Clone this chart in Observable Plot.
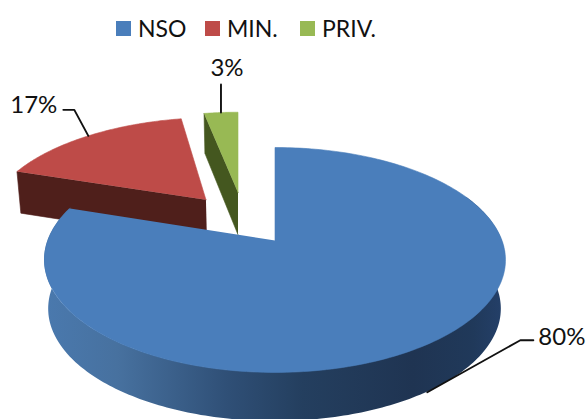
<!DOCTYPE html>
<html>
<head>
<meta charset="utf-8">
<script src="https://cdn.jsdelivr.net/npm/d3@7"></script>
<script src="https://cdn.jsdelivr.net/npm/@observablehq/plot@0.6"></script>
<style>
  html, body { margin: 0; padding: 0; background: #fff; overflow: hidden; }
  body { width: 588px; height: 419px; font-family: Lato, sans-serif; color: #111; }
  #legend { position: relative; height: 48px; }
  #legend .item { position: absolute; top: 15px; display: flex; align-items: center; font-size: 23px; line-height: 26px; }
  #legend .swatch { width: 15px; height: 15px; margin-right: 7px; }
  svg { display: block; }
</style>
</head>
<body>
<div id="legend"></div>
<div id="chart"></div>
<script>
// Shares of the three categories, in percent
const categories = ["NSO", "MIN.", "PRIV."];
const shares = [80, 17, 3];
const topColors = ["#4a7ebb", "#be4b48", "#98b954"];
const sideColors = ["#2c4a70", "#4f1f1b", "#44571f"];

// Perspective pie: disc coordinates are projected with a foreshortening factor k
const k = -0.173;
const pxX = 227, pxY = 109.1;          // pixels per projected unit
const originX = 274.5, originY = 192;  // pie centre inside the SVG
const width = 588, height = 371;

// Explosion of each slice and how its lower face is set below the top face
const explode = [
  {sx: 0, u: 0, v: 0, drop: 0.45, scaleX: 0.982, scaleY: 1},
  {sx: 1 / pxX, u: -0.33, v: -0.40, drop: 0.40, scaleX: 0.985, scaleY: 1.03},
  {sx: -37 / pxX, u: 0, v: -0.476, drop: 0.40, scaleX: 0.975, scaleY: 1.03}
];

// Leader lines: pixel steps from the rim outwards, and the label placement
const leaders = [
  {rim: "bottom", steps: [[93, -52], [13, 0]], text: [5, -3], anchor: "start"},
  {rim: "top", steps: [[-14, -26], [-11, 0]], text: [-6, -5], anchor: "end"},
  {rim: "top", steps: [[0, -28]], text: [6, -16], anchor: "middle"}
];

const ends = d3.cumsum(shares);
const slices = categories.map((name, i) => ({
  name,
  share: shares[i],
  start: (i ? ends[i - 1] : 0) / 100 * 2 * Math.PI,
  end: ends[i] / 100 * 2 * Math.PI,
  top: topColors[i],
  side: sideColors[i],
  off: explode[i]
}));

// Project a disc point onto the top face or the lower face of the pie
function project(u, v, off, lower) {
  const uu = u + off.u, vv = v + off.v;
  const den = 1 + k * vv;
  const x = uu / den, y = vv / den;
  return lower
    ? {x: x * off.scaleX + off.sx, y: y * off.scaleY + off.drop}
    : {x: x + off.sx, y};
}
const rim = (a, off, lower) => project(Math.sin(a), -Math.cos(a), off, lower);
const arc = (a0, a1, off, lower, n = 90) =>
  d3.range(n + 1).map(i => rim(a0 + (a1 - a0) * i / n, off, lower));
const apex = (off, lower) => project(0, 0, off, lower);

const x = {domain: [-originX / pxX, (width - originX) / pxX], range: [0, width], axis: null};
const y = {domain: [-originY / pxY, (height - originY) / pxY], range: [0, height], axis: null};

const polygon = (pts, fill) =>
  Plot.line(pts, {x: "x", y: "y", fill, stroke: fill, strokeWidth: 0.6, curve: "linear"});

const [nso, min, priv] = slices;

// Cut faces of the exploded slices sit below their top faces
const cutFace = (s, a) => [apex(s.off), rim(a, s.off), rim(a, s.off, true), apex(s.off, true)];

// Outer wall of the large slice, shaded from left to right
const wallAngles = d3.range(65, 288.01, 1).map(d => d * Math.PI / 180);
const wall = wallAngles.map(a => {
  const t = rim(a, nso.off), b = rim(a, nso.off, true);
  return {x1: t.x, y1: t.y, x2: b.x, y2: b.y};
});

const wallGradient = () => {
  const defs = d3.create("svg:defs");
  const g = defs.append("linearGradient").attr("id", "wallShade");
  [[0, "#4a79ae"], [0.16, "#47719f"], [0.4, "#2f4f76"], [0.56, "#243f5f"],
   [0.8, "#1f3452"], [0.93, "#20395a"], [1, "#24406a"]]
    .forEach(([o, c]) => g.append("stop").attr("offset", o).attr("stop-color", c));
  return defs.node();
};

// Leader lines and value labels
const leaderMarks = slices.flatMap((s, i) => {
  const l = leaders[i];
  const mid = (s.start + s.end) / 2;
  const p0 = rim(mid, s.off, l.rim === "bottom");
  const pts = [p0];
  l.steps.forEach(([dx, dy]) => {
    const last = pts[pts.length - 1];
    pts.push({x: last.x + dx / pxX, y: last.y + dy / pxY});
  });
  const end = pts[pts.length - 1];
  return [
    Plot.line(pts, {x: "x", y: "y", stroke: "#111", strokeWidth: 1.9, curve: "linear"}),
    Plot.text([{x: end.x + l.text[0] / pxX, y: end.y + l.text[1] / pxY, label: `${s.share}%`}], {
      x: "x", y: "y", text: "label", textAnchor: l.anchor,
      fontSize: 24, fontFamily: "Lato, sans-serif", fill: "#111"
    })
  ];
});

const chart = Plot.plot({
  width, height,
  marginTop: 0, marginRight: 0, marginBottom: 0, marginLeft: 0,
  x, y,
  marks: [
    wallGradient,
    polygon(cutFace(min, min.start), min.side),
    polygon([...arc(min.start, min.end, min.off), apex(min.off)], min.top),
    polygon(cutFace(priv, priv.start), priv.side),
    polygon([...arc(priv.start, priv.end, priv.off, false, 20), apex(priv.off)], priv.top),
    Plot.area(wall, {x1: "x1", y1: "y1", x2: "x2", y2: "y2", fill: "url(#wallShade)", curve: "linear"}),
    polygon([apex(nso.off), ...arc(nso.start, nso.end, nso.off, false, 240)], nso.top),
    ...leaderMarks
  ]
});
chart.style.background = "transparent";
document.getElementById("chart").appendChild(chart);

// Legend row above the pie
const legendLefts = [116, 205, 300];
const legend = document.getElementById("legend");
categories.forEach((name, i) => {
  const item = document.createElement("div");
  item.className = "item";
  item.style.left = legendLefts[i] + "px";
  const swatch = document.createElement("span");
  swatch.className = "swatch";
  swatch.style.background = topColors[i];
  item.append(swatch, name);
  legend.appendChild(item);
});
</script>
</body>
</html>
